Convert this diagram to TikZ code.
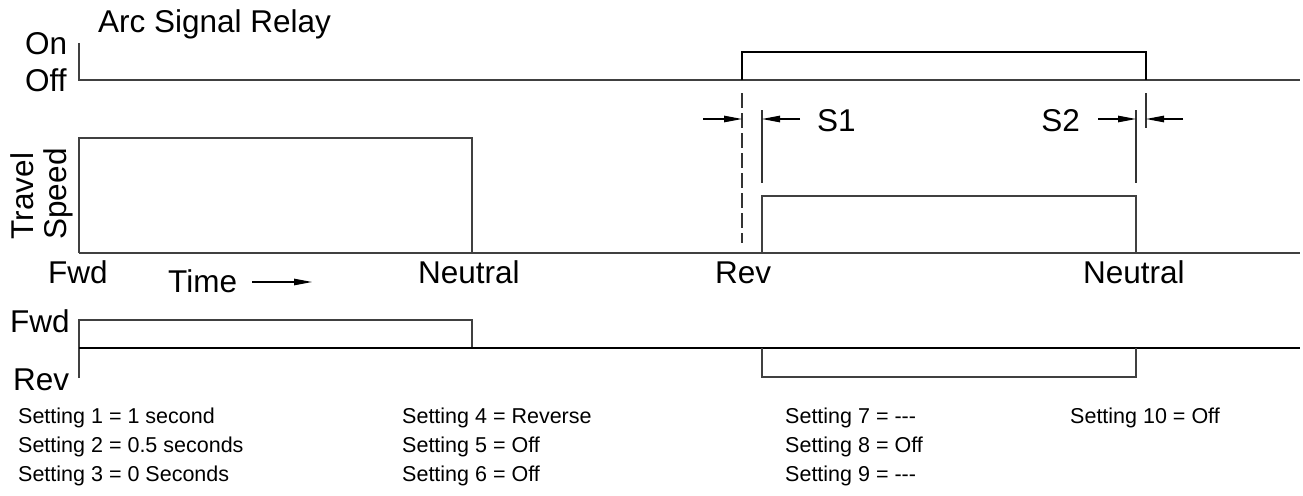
\documentclass[tikz,border=0pt]{standalone}
\usepackage{fontspec}
\setmainfont{Liberation Sans}
\usetikzlibrary{arrows.meta}
\tikzset{
  sig/.style={draw=black!75, line width=1.2pt},
  lbl/.style={inner sep=0pt, anchor=base west, font=\fontsize{31.5}{36}\selectfont},
  setting/.style={inner sep=0pt, anchor=base west, font=\fontsize{21.5}{26}\selectfont},
  dim/.style={draw=black, line width=1.1pt, -{Triangle[length=18pt,width=6.5pt]}},
  ext/.style={draw=black!80, line width=1.1pt},
}
\begin{document}
\begin{tikzpicture}[x=1pt,y=-1pt]
\useasboundingbox (0,0) rectangle (1303,495);
% --- Arc signal relay
\node[lbl] (title) at (98,33) {Arc Signal Relay};
\node[lbl] (on) at (25,55) {On};
\node[lbl] (off) at (25,92) {Off};
\draw[sig] (79,43) -- (79,80) -- (1300,80);
\draw[sig, draw=black] (742,80) -- (742,52) -- (1146,52) -- (1146,80);
% --- Travel speed
\node[inner sep=0pt, anchor=base, rotate=90, font=\fontsize{31.5}{36}\selectfont] (travel) at (33,196) {Travel};
\node[inner sep=0pt, anchor=base, rotate=90, font=\fontsize{31.5}{36}\selectfont] (speed) at (66,194) {Speed};
\draw[sig] (79,253) -- (79,138) -- (472,138) -- (472,253);
\draw[sig] (79,253) -- (1300,253);
\draw[draw=black!75, line width=2pt] (175,253) -- (328,253);
\draw[sig] (762,253) -- (762,196) -- (1136,196) -- (1136,253);
\node[lbl] (fwd1) at (48,283) {Fwd};
\node[lbl] (time) at (168,292) {Time};
\coordinate (ta) at (252,282);
\coordinate (tb) at (312,282);
\draw[dim] (ta) -- (tb);
\node[lbl] (neu1) at (418,283) {Neutral};
\node[lbl] (rev1) at (715,283) {Rev};
\node[lbl] (neu2) at (1083,283) {Neutral};
% --- S1 / S2 dimensions
\draw[ext, dash pattern=on 15pt off 5pt] (742,93) -- (742,243);
\draw[ext] (762,110) -- (762,183);
\draw[ext] (1136,110) -- (1136,183);
\draw[ext] (1146,93) -- (1146,128);
\coordinate (s1a) at (703,119); \coordinate (s1b) at (742,119);
\coordinate (s1c) at (800,119); \coordinate (s1d) at (762,119);
\coordinate (s2a) at (1098,119); \coordinate (s2b) at (1136,119);
\coordinate (s2c) at (1183,119); \coordinate (s2d) at (1146,119);
\draw[dim] (s1a) -- (s1b);
\draw[dim] (s1c) -- (s1d);
\draw[dim] (s2a) -- (s2b);
\draw[dim] (s2c) -- (s2d);
\node[lbl] (s1) at (817,131) {S1};
\node[lbl, anchor=base east] (s2) at (1080,131) {S2};
% --- Direction
\node[lbl] (fwd2) at (10,332) {Fwd};
\node[lbl] (rev2) at (13,390) {Rev};
\draw[sig] (79,378) -- (79,320) -- (472,320) -- (472,348);
\draw[sig, draw=black] (79,348) -- (1300,348);
\draw[sig] (762,348) -- (762,377) -- (1136,377) -- (1136,348);
% --- Settings
\node[setting] (st1) at (18,423) {Setting 1 = 1 second};
\node[setting] (st2) at (18,452) {Setting 2 = 0.5 seconds};
\node[setting] (st3) at (18,481) {Setting 3 = 0 Seconds};
\node[setting] (st4) at (402,423) {Setting 4 = Reverse};
\node[setting] (st5) at (402,452) {Setting 5 = Off};
\node[setting] (st6) at (402,481) {Setting 6 = Off};
\node[setting] (st7) at (785,423) {Setting 7 = -{}-{}-};
\node[setting] (st8) at (785,452) {Setting 8 = Off};
\node[setting] (st9) at (785,481) {Setting 9 = -{}-{}-};
\node[setting] (st10) at (1070,423) {Setting 10 = Off};
\end{tikzpicture}
\end{document}
